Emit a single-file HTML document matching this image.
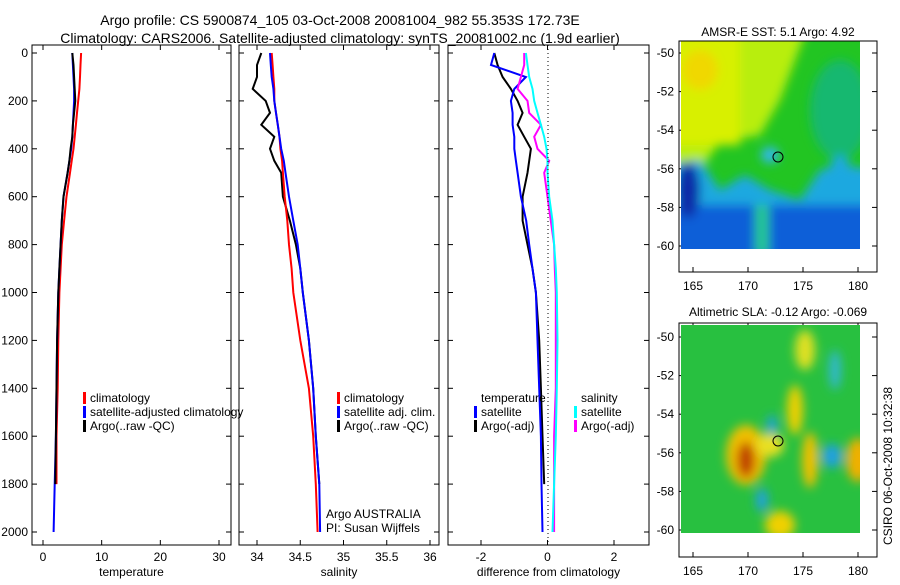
<!DOCTYPE html>
<html><head><meta charset="utf-8"><style>
body{margin:0;background:#fff;font-family:"Liberation Sans",sans-serif;}
svg text{font-family:"Liberation Sans",sans-serif;fill:#000;}
</style></head><body>
<svg width="900" height="580" viewBox="0 0 900 580" xmlns="http://www.w3.org/2000/svg">
<defs>
<filter id="bl" x="-20%" y="-20%" width="140%" height="140%"><feGaussianBlur stdDeviation="5"/></filter>
<clipPath id="c1"><rect x="681" y="41" width="179" height="208"/></clipPath>
<clipPath id="c2"><rect x="681" y="325" width="179" height="208"/></clipPath>
</defs>
<text x="340" y="25" font-size="14" text-anchor="middle">Argo profile: CS 5900874_105 03-Oct-2008 20081004_982 55.353S 172.73E</text>
<text x="340" y="43" font-size="14" text-anchor="middle">Climatology: CARS2006. Satellite-adjusted climatology: synTS_20081002.nc (1.9d earlier)</text>
<g id="plots"></g>
<g>
<text x="778" y="36" font-size="12" text-anchor="middle">AMSR-E SST: 5.1 Argo: 4.92</text>
<g clip-path="url(#c1)">
<rect x="681" y="41" width="179" height="208" fill="#22c522"/>
<g filter="url(#bl)">
<polygon points="660,20 810,20 780,100 760,135 720,142 700,170 660,180" fill="#b8ee10"/>
<rect x="660" y="20" width="80" height="125" fill="#d8f000"/>
<ellipse cx="700" cy="70" rx="18" ry="20" fill="#f0d800"/>
<polygon points="660,165 700,160 720,190 745,175 770,190 800,200 820,170 840,165 880,170 880,270 660,270" fill="#1aa8e0"/>
<rect x="660" y="205" width="220" height="65" fill="#0a5ed8"/>
<ellipse cx="688" cy="190" rx="12" ry="28" fill="#0a2aa8"/>
<ellipse cx="840" cy="110" rx="30" ry="50" fill="#18b870"/>
<ellipse cx="770" cy="155" rx="9" ry="8" fill="#30b8f0"/>
<rect x="755" y="205" width="14" height="50" fill="#28c890"/>
<ellipse cx="840" cy="180" rx="12" ry="25" fill="#1aa8e0"/>
</g></g>
<circle cx="778" cy="157" r="5" fill="none" stroke="#000"/>
<rect x="679" y="41" width="198" height="231" fill="none" stroke="#000"/>
</g>
<g>
<text x="778" y="316" font-size="12" text-anchor="middle">Altimetric SLA: -0.12 Argo: -0.069</text>
<g clip-path="url(#c2)">
<rect x="681" y="325" width="179" height="208" fill="#28c040"/>
<g filter="url(#bl)">
<ellipse cx="746" cy="455" rx="20" ry="30" fill="#f0c000"/>
<ellipse cx="746" cy="460" rx="9" ry="18" fill="#c04000"/>
<ellipse cx="770" cy="445" rx="14" ry="12" fill="#e8e020"/>
<ellipse cx="795" cy="410" rx="8" ry="25" fill="#f0d000"/>
<ellipse cx="810" cy="460" rx="8" ry="28" fill="#f0c000"/>
<ellipse cx="780" cy="525" rx="15" ry="14" fill="#f0d000"/>
<ellipse cx="858" cy="460" rx="12" ry="22" fill="#f0b000"/>
<ellipse cx="772" cy="425" rx="5" ry="10" fill="#20a0e0"/>
<ellipse cx="832" cy="456" rx="10" ry="12" fill="#20a0e0"/>
<ellipse cx="762" cy="500" rx="6" ry="12" fill="#20a0e0"/>
<ellipse cx="805" cy="350" rx="10" ry="20" fill="#e0e020"/>
<ellipse cx="835" cy="370" rx="6" ry="20" fill="#30b8d0"/>
</g></g>
<circle cx="778" cy="441" r="5" fill="none" stroke="#000"/>
<rect x="679" y="323" width="198" height="234" fill="none" stroke="#000"/>
</g>
<text transform="translate(892,545) rotate(-90)" font-size="12">CSIRO 06-Oct-2008 10:32:38</text>
</svg>
<script>
const depths=[0,50,100,150,200,250,300,350,400,450,500,600,700,800,900,1000,1200,1400,1600,1800,2000];
const tempClim=[6.5,6.4,6.3,6.2,6.0,5.8,5.6,5.4,5.2,4.9,4.6,4.0,3.6,3.2,3.0,2.8,2.6,2.5,2.3,2.3,null];
const tempSat=[5.0,5.1,5.2,5.3,5.3,5.2,5.1,5.0,4.8,4.5,4.2,3.5,3.2,3.0,2.8,2.6,2.4,2.3,2.2,2.0,1.8];
const tempArgo=[5.0,5.2,5.3,5.4,5.5,5.3,5.1,5.0,4.7,4.5,4.2,3.5,3.2,3.0,2.8,2.6,2.4,2.3,2.2,2.1,null];
const salClim=[34.17,34.18,34.19,34.2,34.2,34.22,34.24,34.26,34.27,34.29,34.3,34.32,34.35,34.37,34.4,34.42,34.5,34.6,34.65,34.68,34.7];
const salSat=[34.15,34.16,34.17,34.19,34.2,34.22,34.24,34.26,34.28,34.31,34.33,34.37,34.42,34.47,34.5,34.53,34.6,34.65,34.68,34.72,34.73];
const salArgo=[34.05,34.0,34.0,33.95,34.1,34.15,34.05,34.2,34.15,34.2,34.28,34.3,34.38,34.45,34.5,34.53,34.6,34.65,34.68,34.72,null];
const dTempSat=[-1.6,-1.7,-0.65,-1.0,-1.1,-1.05,-1.05,-1.0,-1.0,-0.95,-0.9,-0.8,-0.64,-0.55,-0.45,-0.35,-0.3,-0.25,-0.2,-0.18,-0.15];
const dTempArgo=[-1.6,-1.5,-1.35,-1.1,-0.9,-0.75,-0.9,-0.7,-0.5,-0.55,-0.6,-0.75,-0.75,-0.6,-0.45,-0.35,-0.25,-0.2,-0.15,-0.1,null];
const dSalSat=[-0.65,-0.6,-0.55,-0.45,-0.4,-0.3,-0.2,-0.1,-0.03,0,0,0.05,0.15,0.2,0.25,0.28,0.3,0.28,0.25,0.2,0.15];
const dSalArgo=[-0.7,-0.7,-0.8,-0.9,-0.6,-0.55,-0.2,-0.4,-0.3,0.05,-0.1,0.0,0.1,0.2,0.22,0.25,0.25,0.25,0.2,0.2,0.2];
const depthTicks=[0,200,400,600,800,1000,1200,1400,1600,1800,2000];
const NS='http://www.w3.org/2000/svg';
const root=document.getElementById('plots');
function el(t,a,p){const e=document.createElementNS(NS,t);for(const k in a)e.setAttribute(k,a[k]);(p||root).appendChild(e);return e;}
const yD=d=>53+d*0.2395;
function panel(name,x0,x1,xmin,xmax,pmin,pmax,ticks,tickLbl,xlabel,series,leftLabels){
  const g=el('g',{});
  
  
  const xS=v=>pmin+(v-xmin)/(xmax-xmin)*(pmax-pmin);
  const fr=el('rect',{x:x0,y:45,width:x1-x0,height:500,fill:'none',stroke:'#000'},g);
  
  
  ticks.forEach((t,i)=>{const x=xS(t);
    el('line',{x1:x,x2:x,y1:545,y2:540,stroke:'#000'},g);el('line',{x1:x,x2:x,y1:45,y2:50,stroke:'#000'},g);
    const tx=el('text',{x:x,y:561,'font-size':12,'text-anchor':'middle'},g);tx.textContent=tickLbl[i];
    
    });
  const xl=el('text',{x:(x0+x1)/2,y:576,'font-size':12,'text-anchor':'middle'},g);xl.textContent=xlabel;
  
  
  depthTicks.forEach(d=>{const y=yD(d);
    el('line',{x1:x0,x2:x0+5,y1:y,y2:y,stroke:'#000'},g);el('line',{x1:x1,x2:x1-5,y1:y,y2:y,stroke:'#000'},g);
    if(leftLabels){const t=el('text',{x:x0-4,y:y+4,'font-size':12,'text-anchor':'end'},g);t.textContent=d;
      
      }});
  series.forEach(s=>{let pts=[];depths.forEach((d,i)=>{if(s.v[i]!==null)pts.push(xS(s.v[i]).toFixed(1)+','+yD(d).toFixed(1));});
    const p=el('polyline',{points:pts.join(' '),fill:'none',stroke:s.c,'stroke-width':2},g);
    
    });
  return {g,xS};
}
const p1=panel('temperature-panel',32,231,0,30,43,219,[0,10,20,30],['0','10','20','30'],'temperature',
 [{v:tempClim,c:'#f00',n:'temp-climatology-line'},{v:tempSat,c:'#00f',n:'temp-satellite-line'},{v:tempArgo,c:'#000',n:'temp-argo-line'}],true);
const p2=panel('salinity-panel',239,439,34,36,257,430,[34,34.5,35,35.5,36],['34','34.5','35','35.5','36'],'salinity',
 [{v:salArgo,c:'#000',n:'sal-argo-line'},{v:salClim,c:'#f00',n:'sal-climatology-line'},{v:salSat,c:'#00f',n:'sal-satellite-line'}],false);
const p3=panel('difference-panel',448,649,-2,2,481,614,[-2,0,2],['-2','0','2'],'difference from climatology',
 [{v:dTempArgo,c:'#000',n:'diff-temp-argo-line'},{v:dTempSat,c:'#00f',n:'diff-temp-satellite-line'},{v:dSalArgo,c:'#f0f',n:'diff-sal-argo-line'},{v:dSalSat,c:'#0ff',n:'diff-sal-satellite-line'}],false);
const zl=el('line',{x1:548,x2:548,y1:45,y2:545,stroke:'#000','stroke-dasharray':'1,3'});


function legend(x,y,items){items.forEach((it,i)=>{const yy=y+i*14;
  if(it.c){const r=el('rect',{x:x,y:yy-10,width:3,height:12,fill:it.c});}
  const t=el('text',{x:x+7,y:yy,'font-size':12});t.textContent=it.t;
  
  });}
legend(83,402,[{c:'#f00',t:'climatology'},{c:'#00f',t:'satellite-adjusted climatology'},{c:'#000',t:'Argo(..raw -QC)'}]);
legend(337,402,[{c:'#f00',t:'climatology'},{c:'#00f',t:'satellite adj. clim.'},{c:'#000',t:'Argo(..raw -QC)'}]);
legend(474,402,[{c:null,t:'temperature'},{c:'#00f',t:'satellite'},{c:'#000',t:'Argo(-adj)'}]);
legend(574,402,[{c:null,t:'salinity'},{c:'#0ff',t:'satellite'},{c:'#f0f',t:'Argo(-adj)'}]);
const a1=el('text',{x:326,y:518,'font-size':12});a1.textContent='Argo AUSTRALIA';


const a2=el('text',{x:326,y:532,'font-size':12});a2.textContent='PI: Susan Wijffels';


const lats=[-50,-52,-54,-56,-58,-60], lons=[165,170,175,180];
function mapAxes(top,frameTop,frameBot){
  lats.forEach(l=>{const y=top+(-50-l)*19.3;
    el('line',{x1:679,x2:684,y1:y,y2:y,stroke:'#000'});el('line',{x1:877,x2:872,y1:y,y2:y,stroke:'#000'});
    const t=el('text',{x:674,y:y+4,'font-size':12,'text-anchor':'end'});t.textContent=l;
    
    });
  lons.forEach(l=>{const x=693+(l-165)*11;
    el('line',{x1:x,x2:x,y1:frameBot,y2:frameBot-5,stroke:'#000'});el('line',{x1:x,x2:x,y1:frameTop,y2:frameTop+5,stroke:'#000'});
    const t=el('text',{x:x,y:frameBot+18,'font-size':12,'text-anchor':'middle'});t.textContent=l;
    
    });
}
mapAxes(53,41,272);
mapAxes(337,323,557);
</script>
</body></html>
